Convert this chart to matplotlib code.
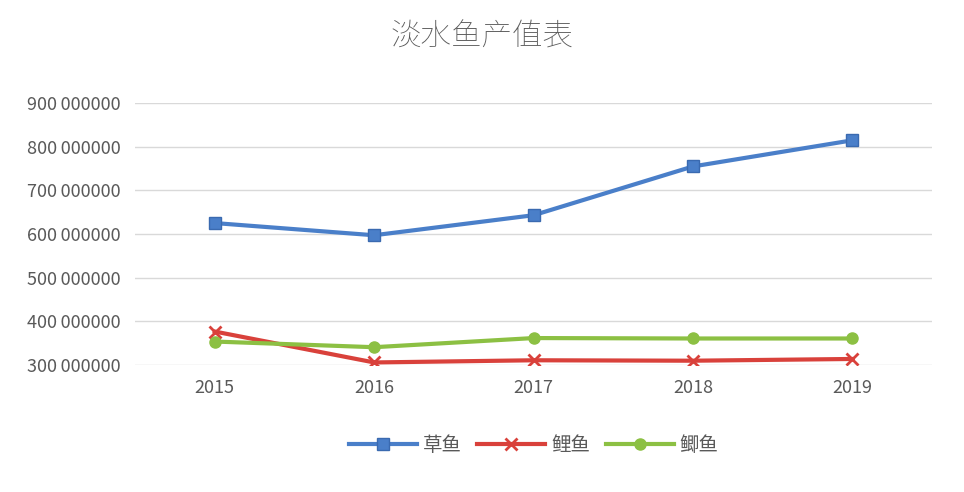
import matplotlib.pyplot as plt
from matplotlib import font_manager
import numpy as np

# register a CJK font file explicitly
cjk_name = "DejaVu Sans"
for f in font_manager.findSystemFonts():
    if "NotoSansCJK" in f or "NotoSansSC" in f or "Noto Sans CJK" in f:
        try:
            font_manager.fontManager.addfont(f)
            cjk_name = font_manager.FontProperties(fname=f).get_name()
            if "SC" in cjk_name or "JP" in cjk_name:
                break
        except Exception:
            pass
plt.rcParams["font.family"] = [cjk_name, "DejaVu Sans"]

years = ["2015", "2016", "2017", "2018", "2019"]
grass_carp = [625000000, 597000000, 643000000, 755000000, 815000000]
carp = [376000000, 305000000, 310000000, 309000000, 313000000]
crucian = [353000000, 340000000, 361000000, 360000000, 360000000]
yticks = [300000000, 400000000, 500000000, 600000000, 700000000, 800000000, 900000000]

fig = plt.figure(figsize=(9.64, 4.92), dpi=100)
ax = fig.add_axes([0.14, 0.258, 0.827, 0.533])
x = np.arange(len(years))

ax.plot(x, grass_carp, color="#4a7fc9", lw=3, marker="s", ms=8,
        mfc="#4a7fc9", mec="#3a6ab0", label="草鱼")
ax.plot(x, carp, color="#d9413b", lw=3, marker="x", ms=8, mew=2,
        mec="#d9413b", label="鲤鱼")
ax.plot(x, crucian, color="#8cc043", lw=3, marker="o", ms=8,
        mfc="#8cc043", label="鲫鱼")

ax.set_xlim(-0.5, len(years) - 0.5)
ax.set_ylim(299000000, 901000000)
ax.set_yticks(yticks)
ax.set_yticklabels([f"{v // 1000000}\u2009000000" for v in yticks],
                   fontsize=13, color="#595959")
ax.set_xticks(x)
ax.set_xticklabels(years, fontsize=13, color="#595959")
ax.tick_params(length=0, pad=10)
ax.grid(axis="y", color="#d9d9d9", lw=1)
ax.set_axisbelow(True)
for s in ax.spines.values():
    s.set_visible(False)

fig.suptitle("淡水鱼产值表", y=0.96, fontsize=22, color="#595959", fontweight="light")
ax.legend(loc="upper center", bbox_to_anchor=(0.5, -0.2), ncol=3, frameon=False,
          fontsize=14, handlelength=3.5, columnspacing=0.8, handletextpad=0.3,
          labelcolor="#595959")

fig.savefig("out.png", dpi=100)
